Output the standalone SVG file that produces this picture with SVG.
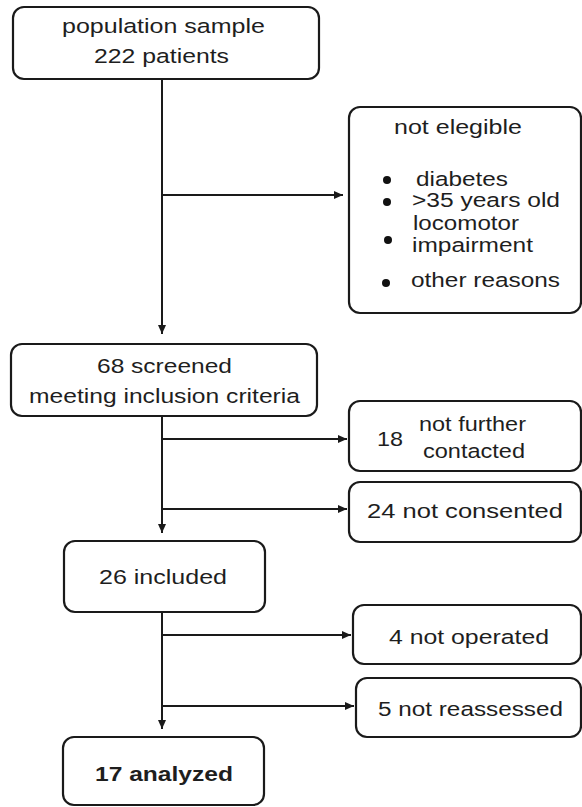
<svg xmlns="http://www.w3.org/2000/svg" width="582" height="807" viewBox="0 0 582 807">
<defs>
<style>
.box{fill:#fff;stroke:#1a1a1a;stroke-width:2.2}
.t{font-family:"Liberation Sans",Arial,sans-serif;font-size:20.5px;fill:#1e1e1e}
.b{font-weight:bold}
.c{fill:none;stroke:#1a1a1a;stroke-width:2}
.dot{fill:#111}
</style>
<marker id="ah" markerUnits="userSpaceOnUse" markerWidth="9" markerHeight="8" refX="9" refY="4" orient="auto">
<path d="M0,0 L9,4 L0,8 z" fill="#1a1a1a"/>
</marker>
</defs>
<rect width="582" height="807" fill="#fff"/>
<g id="connectors">
<path class="c" d="M162,79 V334" marker-end="url(#ah)"/>
<path class="c" d="M162,195 H343" marker-end="url(#ah)"/>
<path class="c" d="M162,416 V533" marker-end="url(#ah)"/>
<path class="c" d="M162,439 H347" marker-end="url(#ah)"/>
<path class="c" d="M162,509 H347" marker-end="url(#ah)"/>
<path class="c" d="M162,612 V729" marker-end="url(#ah)"/>
<path class="c" d="M162,635 H351" marker-end="url(#ah)"/>
<path class="c" d="M162,706 H354" marker-end="url(#ah)"/>
</g>
<g id="population">
<rect class="box" x="13" y="7" width="306" height="72" rx="11"/>
<text class="t" x="62" y="33" textLength="203" lengthAdjust="spacingAndGlyphs">population sample</text>
<text class="t" x="94" y="63" textLength="135" lengthAdjust="spacingAndGlyphs">222 patients</text>
</g>
<g id="not-eligible">
<rect class="box" x="349" y="107" width="232" height="206" rx="11"/>
<text class="t" x="394" y="134" textLength="128" lengthAdjust="spacingAndGlyphs">not elegible</text>
<circle class="dot" cx="387" cy="180" r="4"/>
<text class="t" x="416" y="186" textLength="92" lengthAdjust="spacingAndGlyphs">diabetes</text>
<circle class="dot" cx="387" cy="202" r="4"/>
<text class="t" x="412" y="207" textLength="148" lengthAdjust="spacingAndGlyphs">&gt;35 years old</text>
<circle class="dot" cx="388" cy="240" r="4"/>
<text class="t" x="413" y="230" textLength="106" lengthAdjust="spacingAndGlyphs">locomotor</text>
<text class="t" x="412" y="252" textLength="121" lengthAdjust="spacingAndGlyphs">impairment</text>
<circle class="dot" cx="386" cy="283" r="4"/>
<text class="t" x="411" y="287" textLength="149" lengthAdjust="spacingAndGlyphs">other reasons</text>
</g>
<g id="screened">
<rect class="box" x="11" y="344" width="306" height="72" rx="11"/>
<text class="t" x="97" y="373" textLength="135" lengthAdjust="spacingAndGlyphs">68 screened</text>
<text class="t" x="29" y="403" textLength="271" lengthAdjust="spacingAndGlyphs">meeting inclusion criteria</text>
</g>
<g id="not-contacted">
<rect class="box" x="349" y="401" width="232" height="70" rx="11"/>
<text class="t" x="377" y="446" textLength="26" lengthAdjust="spacingAndGlyphs">18</text>
<text class="t" x="419" y="431" textLength="107" lengthAdjust="spacingAndGlyphs">not further</text>
<text class="t" x="423" y="458" textLength="102" lengthAdjust="spacingAndGlyphs">contacted</text>
</g>
<g id="not-consented">
<rect class="box" x="349" y="482" width="232" height="60" rx="11"/>
<text class="t" x="367" y="518" textLength="196" lengthAdjust="spacingAndGlyphs">24  not consented</text>
</g>
<g id="included">
<rect class="box" x="64" y="541" width="201" height="71" rx="11"/>
<text class="t" x="99" y="584" textLength="128" lengthAdjust="spacingAndGlyphs">26 included</text>
</g>
<g id="not-operated">
<rect class="box" x="353" y="605" width="228" height="59" rx="11"/>
<text class="t" x="389" y="644" textLength="160" lengthAdjust="spacingAndGlyphs">4 not operated</text>
</g>
<g id="not-reassessed">
<rect class="box" x="356" y="678" width="225" height="59" rx="11"/>
<text class="t" x="378" y="716" textLength="185" lengthAdjust="spacingAndGlyphs">5 not reassessed</text>
</g>
<g id="analyzed">
<rect class="box" x="63" y="737" width="201" height="68" rx="11"/>
<text class="t b" x="95" y="781" textLength="138" lengthAdjust="spacingAndGlyphs">17 analyzed</text>
</g>
</svg>
